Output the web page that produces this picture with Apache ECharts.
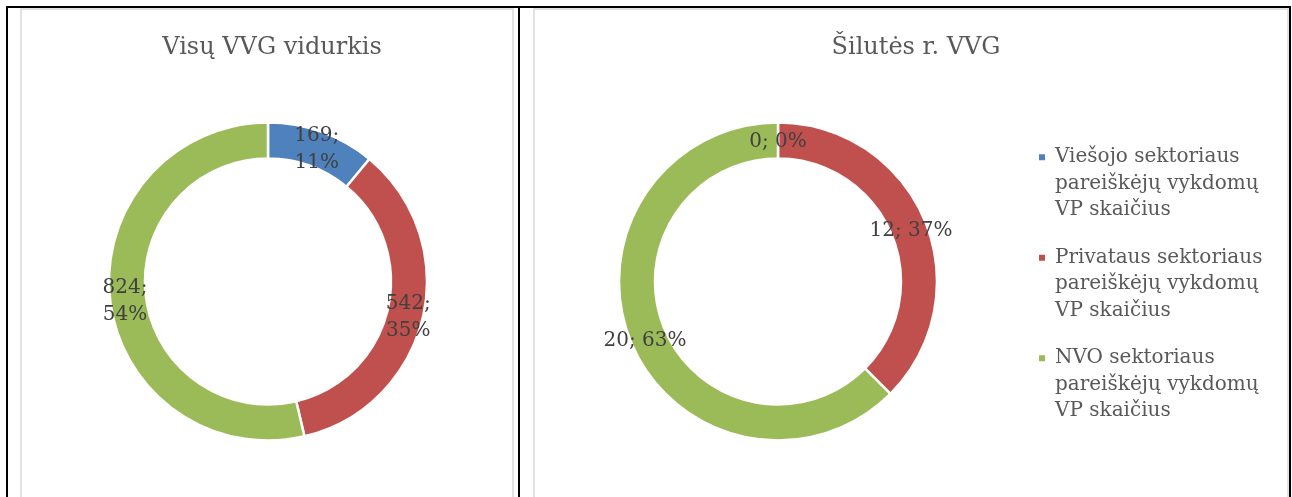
<!DOCTYPE html>
<html>
<head>
    <meta charset="utf-8">
    <title>VVG</title>
    <script src="https://cdn.jsdelivr.net/npm/echarts@6/dist/echarts.min.js"></script>
    <style>
        html, body { margin: 0; padding: 0; background: #fff; }
        #main { width: 1292px; height: 497px; }
    </style>
</head>
<body>
<div id="main"></div>
<script type="text/javascript">
    // kategorijos (legenda)
    var names = [
        'Viešojo sektoriaus\npareiškėjų vykdomų\nVP skaičius',
        'Privataus sektoriaus\npareiškėjų vykdomų\nVP skaičius',
        'NVO sektoriaus\npareiškėjų vykdomų\nVP skaičius'
    ];
    var colors = ['#4F81BD', '#C0504D', '#9BBB59'];

    // Visų VVG vidurkis
    var valuesAll = [169, 542, 824];
    var pctAll = [11, 35, 54];

    // Šilutės r. VVG
    var valuesSil = [0, 12, 20];
    var pctSil = [0, 37, 63];

    var FONT = 'DejaVu Serif';

    function toData(vals) {
        var d = [];
        for (var i = 0; i < vals.length; i++) {
            d.push({ name: names[i], value: vals[i] });
        }
        return d;
    }

    var myChart = echarts.init(document.getElementById('main'));
    myChart.setOption({
        animation: false,
        color: colors,
        title: [{
            text: 'Visų VVG vidurkis',
            left: 267, top: 31, textAlign: 'center',
            textStyle: { fontFamily: FONT, fontSize: 24, fontWeight: 'normal', color: '#595959' }
        }, {
            text: 'Šilutės r. VVG',
            left: 911, top: 31, textAlign: 'center',
            textStyle: { fontFamily: FONT, fontSize: 24, fontWeight: 'normal', color: '#595959' }
        }],
        legend: {
            orient: 'vertical',
            left: 1032, top: 86,
            icon: 'rect',
            itemWidth: 8, itemHeight: 8,
            itemGap: -32,
            selectedMode: false,
            // dvi tuščios eilutės priekyje -> žymeklis lygiuojasi su pirma eilute
            formatter: function (n) { return '\n\n' + n; },
            textStyle: { fontFamily: FONT, fontSize: 20, lineHeight: 26.5, color: '#595959', padding: [0, 0, 0, 4] }
        },
        graphic: [
            { type: 'rect', shape: { x: 21, y: 9, width: 492, height: 520 }, style: { fill: 'none', stroke: '#D9D9D9', lineWidth: 1.5 }, silent: true },
            { type: 'rect', shape: { x: 534, y: 9, width: 754, height: 520 }, style: { fill: 'none', stroke: '#D9D9D9', lineWidth: 1.5 }, silent: true },
            { type: 'rect', shape: { x: 7, y: 7, width: 1283, height: 520 }, style: { fill: 'none', stroke: '#000', lineWidth: 2 }, silent: true },
            { type: 'line', shape: { x1: 519, y1: 7, x2: 519, y2: 497 }, style: { stroke: '#000', lineWidth: 2 }, silent: true }
        ],
        series: [{
            name: 'Visų VVG vidurkis',
            type: 'pie',
            center: [268, 281.5],
            radius: [123, 159],
            startAngle: 90,
            clockwise: true,
            avoidLabelOverlap: false,
            itemStyle: { borderColor: '#fff', borderWidth: 2.5 },
            label: {
                position: 'inside',
                offset: [0, 3],
                fontFamily: FONT, fontSize: 20, lineHeight: 27, color: '#404040',
                formatter: function (p) { return p.value + ';\n' + pctAll[p.dataIndex] + '%'; }
            },
            labelLine: { show: false },
            emphasis: { disabled: true },
            data: toData(valuesAll)
        }, {
            name: 'Šilutės r. VVG',
            type: 'pie',
            center: [778, 281.5],
            radius: [123, 159],
            startAngle: 90,
            clockwise: true,
            avoidLabelOverlap: false,
            itemStyle: { borderColor: '#fff', borderWidth: 2.5 },
            label: {
                position: 'inside',
                offset: [0, 4],
                fontFamily: FONT, fontSize: 20, color: '#404040',
                formatter: function (p) { return p.value + '; ' + pctSil[p.dataIndex] + '%'; }
            },
            labelLine: { show: false },
            emphasis: { disabled: true },
            data: toData(valuesSil)
        }]
    });
</script>
</body>
</html>
